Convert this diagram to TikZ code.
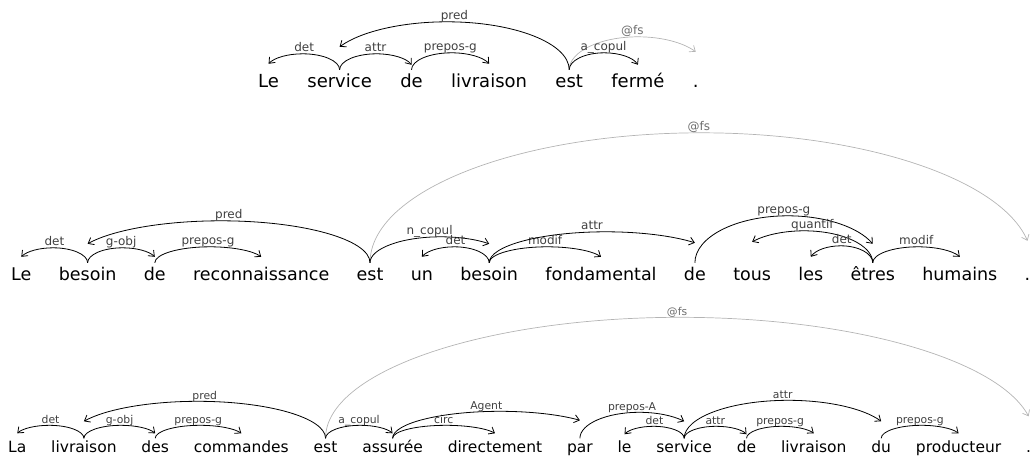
\documentclass[tikz,border=0pt]{standalone}
\usepackage{fontspec}
\setmainfont{DejaVu Sans}
\usetikzlibrary{arrows.meta,positioning,calc}
\definecolor{fsline}{HTML}{B4B4B4}
\definecolor{labtext}{HTML}{404040}
\definecolor{fstext}{HTML}{6E6E6E}
\tikzset{
  wd/.style={inner sep=0pt, text height=17pt, text depth=4pt},
  arc/.style={-{Straight Barb[length=5pt,width=8pt]}, line width=0.8pt},
  fs/.style={draw=fsline, line width=0.7pt},
  lab/.style={inner sep=0pt, anchor=base, text=labtext, font=\fontsize{12}{12}\selectfont},
  fslab/.style={text=fstext},
}
% half-ellipse from head to dependent, cut off #5 above the dependent
\newcommand{\arcpath}[5]{%
  \draw[#1] let \p1=(#2.north), \p2=(#3.north),
      \n1={asin(#5/#4)}, \n2={abs(\x2-\x1)/(1+cos(\n1))},
      \n3={ifthenelse(\x2>\x1,180,0)}, \n4={ifthenelse(\x2>\x1,\n1,180-\n1)}
    in (\p1) arc[start angle=\n3, end angle=\n4, x radius={\n2*1pt}, y radius=#4pt];}
\newcommand{\deparc}[5]{\arcpath{arc}{#1}{#2}{#3}{#4}%
  \node[lab] (#1-#2) at ($(#1.north)!0.5!(#2.north)+(0,#3+2)$) {#5};}
\newcommand{\fsarc}[4]{\arcpath{arc,fs}{#1}{#2}{#3}{#4}%
  \node[lab,fslab] (#1-#2) at ($(#1.north)!0.5!(#2.north)+(0,#3+2)$) {@fs};}

\begin{document}
\begin{tikzpicture}[x=1pt, y=1pt]
  \useasboundingbox (0,0) rectangle (1034,-459);
  % sentence 1
  \begin{scope}[wd/.append style={font=\fontsize{18}{20}\selectfont}]
    \node[wd, anchor=base west] (a1) at (258,-87) {Le};
    \node[wd, base right=28pt of a1] (a2) {service};
    \node[wd, base right=28pt of a2] (a3) {de};
    \node[wd, base right=28pt of a3] (a4) {livraison};
    \node[wd, base right=28pt of a4] (a5) {est};
    \node[wd, base right=28pt of a5] (a6) {fermé};
    \node[wd, base right=28pt of a6] (a7) {.};
    \deparc{a2}{a1}{16}{6}{det}
    \deparc{a2}{a3}{16}{5}{attr}
    \deparc{a3}{a4}{17}{6}{prepos-g}
    \deparc{a5}{a2}{48}{23}{pred}
    \fsarc{a5}{a7}{33}{18}
    \deparc{a5}{a6}{17}{5}{a\_copul}
  \end{scope}
  % sentence 2
  \begin{scope}[wd/.append style={font=\fontsize{17.5}{20}\selectfont}]
    \node[wd, anchor=base west] (b1) at (11,-280) {Le};
    \node[wd, base right=27pt of b1] (b2) {besoin};
    \node[wd, base right=27pt of b2] (b3) {de};
    \node[wd, base right=27pt of b3] (b4) {reconnaissance};
    \node[wd, base right=27pt of b4] (b5) {est};
    \node[wd, base right=27pt of b5] (b6) {un};
    \node[wd, base right=27pt of b6] (b7) {besoin};
    \node[wd, base right=27pt of b7] (b8) {fondamental};
    \node[wd, base right=27pt of b8] (b9) {de};
    \node[wd, base right=27pt of b9] (b10) {tous};
    \node[wd, base right=27pt of b10] (b11) {les};
    \node[wd, base right=27pt of b11] (b12) {êtres};
    \node[wd, base right=27pt of b12] (b13) {humains};
    \node[wd, base right=27pt of b13] (b14) {.};
    \fsarc{b5}{b14}{130}{22}
    \deparc{b2}{b1}{15}{6}{det}
    \deparc{b2}{b3}{15}{6}{g-obj}
    \deparc{b3}{b4}{16}{6}{prepos-g}
    \deparc{b5}{b2}{42}{19}{pred}
    \deparc{b5}{b7}{26}{19}{n\_copul}
    \deparc{b7}{b6}{16}{6}{det}
    \deparc{b7}{b8}{16}{6}{modif}
    \deparc{b7}{b9}{31}{20}{attr}
    \deparc{b9}{b12}{47}{19}{prepos-g}
    \deparc{b12}{b10}{32}{21}{quantif}
    \deparc{b12}{b11}{17}{6}{det}
    \deparc{b12}{b13}{16}{6}{modif}
  \end{scope}
  % sentence 3
  \begin{scope}[wd/.append style={font=\fontsize{15.5}{18}\selectfont, text height=13.5pt},
      lab/.append style={font=\fontsize{10.8}{11}\selectfont}]
    \node[wd, anchor=base west] (c1) at (8,-452) {La};
    \node[wd, base right=24.5pt of c1] (c2) {livraison};
    \node[wd, base right=24.5pt of c2] (c3) {des};
    \node[wd, base right=24.5pt of c3] (c4) {commandes};
    \node[wd, base right=24.5pt of c4] (c5) {est};
    \node[wd, base right=24.5pt of c5] (c6) {assurée};
    \node[wd, base right=24.5pt of c6] (c7) {directement};
    \node[wd, base right=24.5pt of c7] (c8) {par};
    \node[wd, base right=24.5pt of c8] (c9) {le};
    \node[wd, base right=24.5pt of c9] (c10) {service};
    \node[wd, base right=24.5pt of c10] (c11) {de};
    \node[wd, base right=24.5pt of c11] (c12) {livraison};
    \node[wd, base right=24.5pt of c12] (c13) {du};
    \node[wd, base right=24.5pt of c13] (c14) {producteur};
    \node[wd, base right=24.5pt of c14] (c15) {.};
    \fsarc{c5}{c15}{121}{22}
    \deparc{c2}{c1}{13}{5}{det}
    \deparc{c2}{c3}{13}{5}{g-obj}
    \deparc{c3}{c4}{13}{5}{prepos-g}
    \deparc{c5}{c2}{37}{17}{pred}
    \deparc{c5}{c6}{13}{5}{a\_copul}
    \deparc{c6}{c7}{13}{5}{circ}
    \deparc{c6}{c8}{27}{18}{Agent}
    \deparc{c8}{c10}{26}{17}{prepos-A}
    \deparc{c10}{c9}{12}{4}{det}
    \deparc{c10}{c11}{12}{4}{attr}
    \deparc{c11}{c12}{12}{5}{prepos-g}
    \deparc{c10}{c13}{38}{17}{attr}
    \deparc{c13}{c14}{13}{5}{prepos-g}
  \end{scope}
\end{tikzpicture}
\end{document}
